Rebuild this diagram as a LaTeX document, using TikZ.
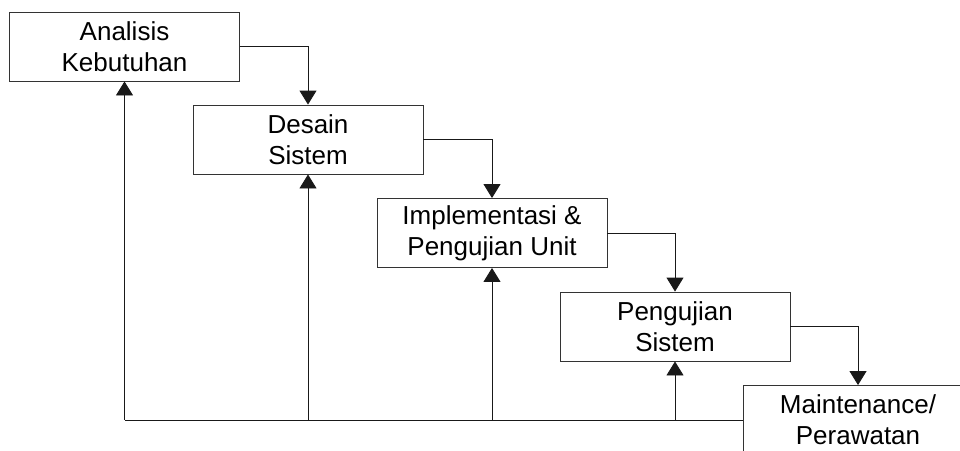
\documentclass[tikz,border=0pt]{standalone}
\usepackage{fontspec}
\setmainfont{Liberation Sans}
\usetikzlibrary{arrows.meta}
\begin{document}
\begin{tikzpicture}[x=1pt,y=-1pt,
  stepbox/.style={draw=black!80, line width=0.9pt, fill=white, minimum width=230pt, minimum height=69pt, align=center, inner sep=0pt, font=\fontsize{26}{31}\selectfont},
  conn/.style={line width=0.9pt, draw=black!90},
  arr/.style={conn, -{Triangle[width=17pt,length=14pt]}}]
\clip (0,0) rectangle (960,450);
\fill[white] (0,0) rectangle (960,450);
\node[stepbox] (b1) at (124.5,46.5) {Analisis\\Kebutuhan};
\node[stepbox] (b2) at (308,139.5) {Desain\\Sistem};
\node[stepbox] (b3) at (492,233) {Implementasi \&\\Pengujian Unit};
\node[stepbox] (b4) at (675,326.5) {Pengujian\\Sistem};
\node[stepbox] (b5) at (858,420) {Maintenance/\\Perawatan};
\draw[arr] (b1.east) -| (b2.north);
\draw[arr] (b2.east) -| (b3.north);
\draw[arr] (b3.east) -| (b4.north);
\draw[arr] (b4.east) -| (b5.north);
\coordinate (c1) at (b1.south |- b5.west);
\coordinate (c2) at (b2.south |- b5.west);
\coordinate (c3) at (b3.south |- b5.west);
\coordinate (c4) at (b4.south |- b5.west);
\draw[conn] (b5.west) -- (c1);
\draw[arr] (c1) -- (b1.south);
\draw[arr] (c2) -- (b2.south);
\draw[arr] (c3) -- (b3.south);
\draw[arr] (c4) -- (b4.south);
\end{tikzpicture}
\end{document}
